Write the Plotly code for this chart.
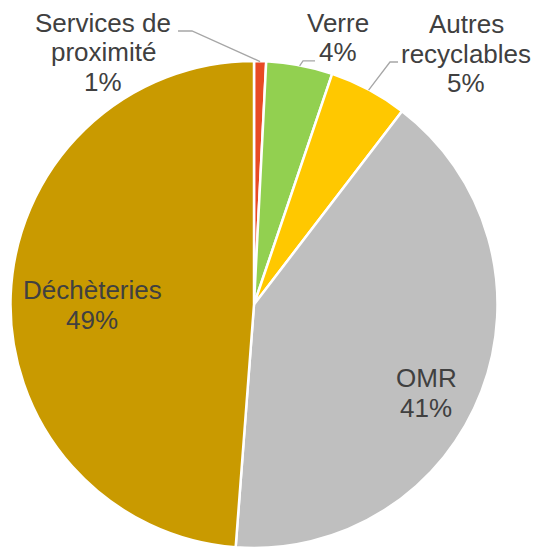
import math
import plotly.graph_objects as go

labels = ["Services de proximité", "Verre", "Autres recyclables", "OMR", "Déchèteries"]
values = [0.8, 4.4, 5.2, 40.8, 48.8]
pct_text = ["1%", "4%", "5%", "41%", "49%"]
colors = ["#E84A24", "#92D050", "#FFC800", "#BFBFBF", "#C99A00"]

OFF = 8  # page body margin: shift so the screenshot lines up
W, H = 539 - OFF, 548 - OFF
CX, CY, R = 254, 305, 243.5
TEXT = "#404040"
LINE = "#A6A6A6"


def px(x, y):
    return (x - OFF) / W, 1 - (y - OFF) / H


x0, y0 = px(10, 61)
x1, y1 = px(498, 548)
fig = go.Figure(go.Pie(
    labels=labels,
    values=values,
    sort=False,
    direction="clockwise",
    rotation=0,
    marker=dict(colors=colors, line=dict(color="white", width=2.5)),
    textinfo="none",
    hoverinfo="label+percent",
    domain=dict(x=[x0, x1], y=[max(y1, 0), y0]),
))

# text blocks: slice index -> (center x, first baseline y)
blocks = {
    0: (103, 32, ["Services de", "proximité"]),
    1: (338, 32, ["Verre"]),
    2: (466, 33, ["Autres", "recyclables"]),
    3: (426, 387, ["OMR"]),
    4: (92, 299, ["Déchèteries"]),
}
annotations = []
for i, (x, yb, lines) in blocks.items():
    for k, t in enumerate(lines + [pct_text[i]]):
        ax, ay = px(x, yb + 29.5 * k - 9)
        annotations.append(dict(x=ax, y=ay, xref="paper", yref="paper", text=t,
                                showarrow=False, xanchor="center", yanchor="middle",
                                font=dict(size=26, color=TEXT,
                                          family="Liberation Sans, Arial, sans-serif")))

# leader lines from slice mid-angle on the rim to an elbow near the label
elbows = {0: [(192, 31), (178, 31)], 1: [(303, 61), (315, 61)], 2: [(390, 62), (398, 62)]}
total = sum(values)
shapes = []
cum = 0
for i, v in enumerate(values):
    mid = (cum + v / 2) / total * 2 * math.pi
    cum += v
    if i not in elbows:
        continue
    pts = [(CX + R * math.sin(mid), CY - R * math.cos(mid))] + elbows[i]
    path = ""
    for j, (x, y) in enumerate(pts):
        a, b = px(x, y)
        path += ("M" if j == 0 else "L") + f"{a:.4f},{b:.4f} "
    shapes.append(dict(type="path", path=path, xref="paper", yref="paper",
                       line=dict(color=LINE, width=1.3)))

fig.update_layout(
    width=W, height=H,
    margin=dict(l=0, r=0, t=0, b=0),
    paper_bgcolor="white",
    showlegend=False,
    annotations=annotations,
    shapes=shapes,
)
fig.write_html("out.html")
